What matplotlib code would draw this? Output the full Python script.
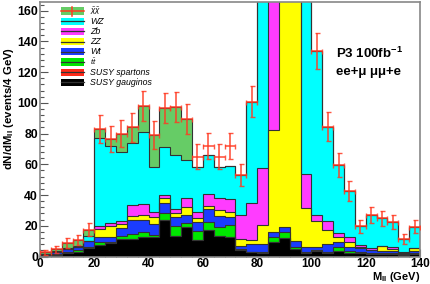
import numpy as np
import matplotlib
matplotlib.use("Agg")
import matplotlib.pyplot as plt
from matplotlib.patches import Rectangle
from matplotlib.lines import Line2D
from matplotlib.ticker import MultipleLocator

# 4 GeV bins from 0 to 140 GeV
edges = np.arange(0, 141, 4)

# per-process contents (events / 4 GeV)
gauginos = [0.5, 1.0, 2.0, 3.0, 5.5, 7.8, 9.0, 11.2, 11.4, 12.5, 12.5, 24.0, 13.5, 19.4,
            10.7, 17.3, 13.4, 12.9, 4.5, 2.8, 2.0, 9.6, 11.8, 4.7, 2.3, 3.8, 2.5, 3.8,
            2.3, 2.1, 1.6, 1.5, 1.5, 1.2, 1.5]
spartons = [0.0] * 35
ttbar = [0.3, 0.5, 1.0, 1.0, 1.0, 1.6, 0.6, 2.2, 3.3, 3.7, 1.5, 4.1, 6.1, 2.2,
         5.9, 5.4, 6.0, 7.6, 0.5, 0.4, 1.1, 3.1, 4.4, 1.7, 0.7, 0.7, 0.5, 2.2,
         1.5, 1.0, 0.4, 0.5, 0.5, 0.3, 0.5]
wt = [0.7, 1.3, 2.0, 2.0, 3.5, 3.1, 2.9, 5.0, 9.1, 7.6, 7.0, 6.9, 6.4, 5.4,
      6.1, 8.0, 7.0, 5.0, 2.0, 4.8, 4.9, 3.5, 3.2, 3.9, 3.4, 1.5, 5.1, 3.2,
      2.6, 2.2, 2.2, 1.8, 1.8, 1.0, 1.8]
zz = [0.0, 0.0, 0.0, 0.2, 0.0, 5.7, 7.3, 2.8, 2.6, 3.2, 5.0, 2.9, 2.2, 5.4,
      2.2, 2.2, 3.9, 3.7, 4.6, 3.0, 12.5, 66.2, 480.6, 339.7, 25.2, 17.3, 9.2, 3.3,
      2.8, 1.1, 0.0, 3.0, 0.9, 0.0, 1.5]
zb = [0.0, 0.2, 0.2, 0.2, 0.2, 1.4, 1.7, 2.1, 7.1, 7.0, 2.8, 2.4, 2.6, 5.5,
      4.3, 7.6, 7.6, 8.1, 15.1, 24.0, 37.2, 217.6, 20.0, 10.0, 21.9, 3.4, 6.0, 3.0,
      3.7, 1.1, 1.1, 0.0, 1.7, 0.3, 0.0]
wz = [0.3, 0.3, 0.3, 0.6, 3.1, 57.4, 50.5, 44.7, 40.5, 47.0, 29.7, 30.7, 35.2, 25.1,
      28.8, 25.5, 20.1, 21.7, 26.3, 65.8, 192.3, 100.0, 40.0, 30.0, 146.5, 107.3, 61.3, 44.1,
      30.0, 12.1, 21.7, 18.1, 15.9, 8.7, 14.1]
chichi = [0.9, 1.3, 3.3, 3.7, 4.2, 6.0, 4.5, 12.0, 10.0, 17.0, 20.5, 25.5, 31.5, 26.5,
          0.0, 0.0, 0.0, 0.0, 0.0, 0.0, 0.0, 0.0, 0.0, 0.0, 0.0, 0.0, 0.0, 0.0,
          0.0, 0.0, 0.0, 0.0, 0.0, 0.0, 0.0]

# total with its error bar (red markers)
total = [2.7, 4.6, 8.8, 10.7, 17.5, 83.0, 76.5, 80.0, 84.0, 98.0, 79.0, 96.5, 97.5, 89.5,
         65.0, 72.0, 65.0, 72.0, 53.0, 100.8, 250.0, 400.0, 560.0, 390.0, 200.0, 134.0, 84.6, 59.6,
         42.9, 19.6, 27.0, 24.9, 22.3, 11.5, 19.4]
total_err = [1.6, 2.1, 3.0, 3.3, 4.2, 9.1, 8.7, 8.9, 9.2, 9.9, 8.9, 9.8, 9.9, 9.5,
             8.1, 8.5, 8.1, 8.5, 7.3, 10.0, 15.8, 20.0, 23.7, 19.7, 14.1, 11.6, 9.2, 7.7,
             6.5, 4.4, 5.2, 5.0, 4.7, 3.4, 4.4]

layers = [
    ("SUSY gauginos", gauginos, "#000000"),
    ("SUSY spartons", spartons, "#ff2a1a"),
    (r"t$\bar{t}$", ttbar, "#00e600"),
    ("Wt", wt, "#1a3cff"),
    ("ZZ", zz, "#ffff00"),
    ("Zb", zb, "#ff3cff"),
    ("WZ", wz, "#00ffff"),
    (r"$\tilde{\chi}\tilde{\chi}$", chichi, "#66cc66"),
]

red = "#ff3a22"
edge = "#333333"

plt.rcParams["font.family"] = ["Liberation Sans", "DejaVu Sans"]
plt.rcParams["font.weight"] = "bold"
plt.rcParams["mathtext.default"] = "regular"

W, H = 431, 284
fig = plt.figure(figsize=(W / 100, H / 100), dpi=100)
ax = fig.add_axes([40 / W, 27.5 / H, 380 / W, 254.5 / H])
ax.set_axisbelow(True)

# cumulative sums, drawn top-down like a ROOT stack
cums = np.cumsum(np.array([l[1] for l in layers], dtype=float), axis=0)
for (name, vals, col), cum in reversed(list(zip(layers, cums))):
    ax.stairs(cum, edges, baseline=0, fill=True, facecolor=col, edgecolor="none", zorder=1)
    ax.stairs(cum, edges, baseline=0, fill=False, color=edge, lw=0.8, zorder=2)

centers = 0.5 * (edges[:-1] + edges[1:])
ax.errorbar(centers, total, xerr=2, yerr=total_err, fmt="none", ecolor=red,
            elinewidth=1.2, capsize=1.8, capthick=1.0, alpha=0.85, zorder=5)

ax.set_xlim(0, 140)
ax.set_ylim(0, 165.7)
ax.xaxis.set_major_locator(MultipleLocator(20))
ax.xaxis.set_minor_locator(MultipleLocator(4))
ax.yaxis.set_major_locator(MultipleLocator(20))
ax.yaxis.set_minor_locator(MultipleLocator(4))
ax.tick_params(which="both", direction="in", top=False, right=False,
               width=0.8, color="#555555", pad=1.5)
ax.tick_params(axis="y", labelsize=8.8)
ax.tick_params(axis="x", labelsize=8.5, pad=1)
ax.tick_params(which="major", length=6)
ax.tick_params(which="minor", length=3)
for lab in ax.get_xticklabels() + ax.get_yticklabels():
    lab.set_fontweight("bold")
for sp in ax.spines.values():
    sp.set_color("#888888")
    sp.set_linewidth(1.2)

fig.text(1.5 / W, 1 - 108 / H, r"dN/dM$_{ll}$ (events/4 GeV)", rotation=90,
         ha="left", va="center", fontsize=8.2, fontweight="bold")
fig.text(420 / W, 0.5 / H, r"M$_{ll}$ (GeV)", ha="right", va="bottom",
         fontsize=8, fontweight="bold")

ax.text(0.779, 0.78, r"P3 100fb$^{-1}$", transform=ax.transAxes,
        fontsize=9.5, fontweight="bold")
ax.text(0.779, 0.713, "ee+\u03bc \u03bc\u03bc+e", transform=ax.transAxes,
        fontsize=9.5, fontweight="bold")

# legend drawn by hand, ROOT-like rows every 10 px
px = fig.transFigure
for k, (name, vals, col) in enumerate(reversed(layers)):
    yc = 1 - (11 + 10.2 * k) / H
    fig.patches.append(Rectangle((61 / W, yc - 3.6 / H), 22.5 / W, 7.2 / H,
                                 transform=px, facecolor=col, edgecolor="none",
                                 figure=fig, zorder=6))
    lc = red if k == 0 else edge
    fig.lines.append(Line2D([61 / W, 83.5 / W], [yc, yc], transform=px,
                            color=lc, lw=1.1 if k == 0 else 0.9, figure=fig, zorder=7))
    if k == 0:
        fig.lines.append(Line2D([72 / W, 72 / W], [yc - 4.5 / H, yc + 4.5 / H],
                                transform=px, color=red, lw=1.1, figure=fig, zorder=7))
    fs = 5.8 if "$" in name else 6.3
    fig.text(90 / W, yc, name, ha="left", va="center", fontsize=fs,
             fontstyle="italic", fontweight="normal", zorder=8)

fig.savefig("out.png", dpi=100)
